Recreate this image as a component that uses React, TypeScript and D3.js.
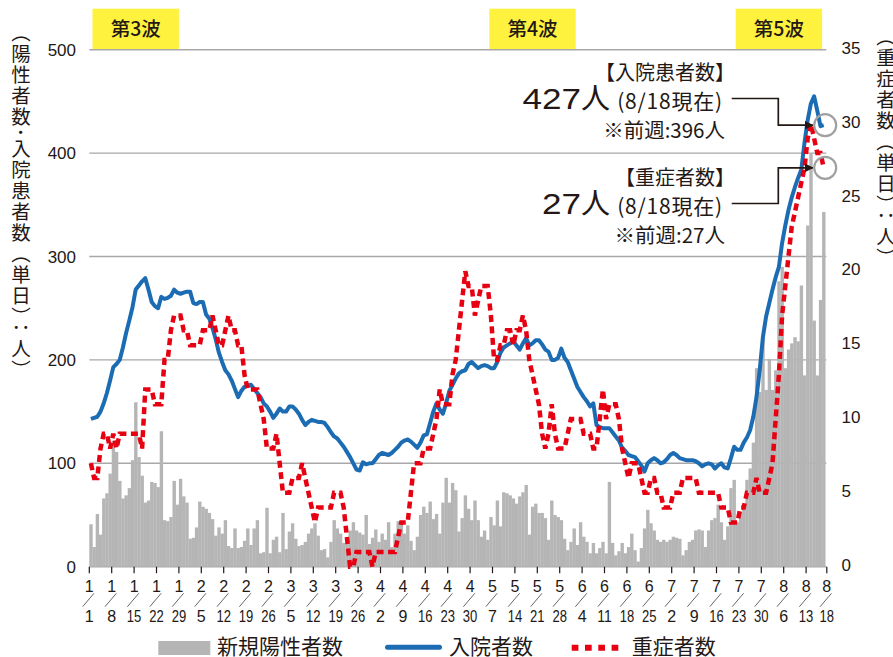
import { useEffect, useRef } from 'react'
import * as d3 from 'd3'

const WIDTH = 893
const HEIGHT = 657
const PLOT_LEFT = 89.3
const PLOT_RIGHT = 825.3
const PLOT_TOP = 49.7
const PLOT_BOTTOM = 566.7

const JP = '"Noto Sans CJK JP", "Noto Sans", sans-serif'
const NUM = '"Liberation Sans", Arial, sans-serif'
const INK = '#231815'
const BAR_COLOR = '#b5b5b5'
const BLUE = '#1c6cb4'
const RED = '#e60012'
const YELLOW = '#fff23f'

const START = new Date(2021, 0, 1)
const END = new Date(2021, 7, 18)

// 新規陽性者数 (1/1 - 8/18, daily)
const newCases = [
  41, 19, 51, 31, 66, 71, 90,
  122, 111, 83, 66, 69, 76, 103,
  159, 106, 88, 62, 64, 82, 81,
  77, 131, 45, 44, 48, 83, 60,
  85, 68, 62, 27, 28, 38, 63,
  58, 56, 52, 46, 30, 38, 32,
  45, 20, 18, 37, 18, 19, 25,
  37, 21, 37, 45, 13, 14, 57,
  13, 26, 29, 14, 52, 17, 34,
  42, 27, 20, 21, 24, 32, 37,
  42, 30, 16, 17, 9, 24, 45,
  37, 32, 23, 26, 35, 43, 35,
  33, 31, 50, 22, 28, 36, 24,
  32, 26, 43, 19, 32, 44, 42,
  32, 40, 25, 16, 29, 50, 58,
  52, 63, 46, 51, 32, 62, 86,
  62, 81, 74, 34, 47, 69, 56,
  45, 64, 45, 29, 35, 26, 48,
  40, 64, 39, 72, 71, 69, 66,
  61, 68, 72, 79, 31, 58, 61,
  52, 52, 47, 26, 64, 50, 48,
  45, 27, 16, 24, 37, 21, 43,
  29, 24, 13, 23, 13, 18, 24,
  13, 82, 23, 11, 15, 23, 13,
  19, 32, 16, 5, 18, 37, 55,
  42, 35, 26, 24, 26, 24, 26,
  29, 28, 27, 11, 16, 24, 26,
  35, 36, 35, 19, 35, 45, 47,
  60, 43, 26, 39, 76, 84, 43,
  53, 58, 84, 95, 120, 192, 169,
  221, 171, 201, 171, 190, 276, 290,
  192, 210, 216, 222, 218, 272, 185,
  330, 400, 238, 185, 258, 343,
]

// 入院者数
const hospitalized = [
  143, 144, 145, 150, 158, 168, 180,
  193, 196, 200, 212, 226, 238, 251,
  268, 272, 276, 279, 268, 256, 252,
  250, 261, 259, 260, 262, 268, 265,
  264, 265, 266, 266, 255, 254, 256,
  256, 244, 240, 231, 220, 207, 198,
  190, 186, 180, 172, 164, 170, 174,
  175, 176, 172, 168, 164, 158, 155,
  150, 144, 148, 153, 150, 150, 155,
  155, 152, 148, 142, 137, 140, 142,
  141, 140, 140, 139, 135, 130, 126,
  124, 120, 116, 111, 106, 100, 94,
  93, 101, 99, 100, 100, 104, 108,
  110, 109, 108, 110, 113, 116, 120,
  122, 123, 121, 118, 115, 120, 127,
  128, 139, 150, 158, 152, 148, 158,
  170, 176, 182, 187, 189, 190, 196,
  198, 195, 192, 194, 195, 194, 192,
  192, 198, 207, 212, 214, 216, 218,
  214, 210, 216, 221, 214, 216, 219,
  219, 215, 210, 208, 200, 200, 202,
  211, 202, 198, 190, 182, 174, 169,
  164, 160, 155, 158, 137, 135, 134,
  134, 134, 130, 126, 122, 115, 112,
  108, 107, 106, 102, 98, 92, 100,
  103, 105, 103, 100, 101, 104, 108,
  110, 108, 105, 104, 103, 103, 103,
  102, 100, 97, 99, 100, 99, 95,
  98, 100, 96, 95, 105, 116, 113,
  113, 120, 125, 132, 145, 164, 190,
  222, 242, 255, 268, 280, 290, 313,
  330, 345, 357, 367, 376, 384, 410,
  432, 448, 455, 441, 426, 427,
]

// 重症者数
const severe = [
  7, 6, 6, 8, 9, 9, 8,
  9, 8, 9, 9, 9, 9, 9,
  9, 9, 8, 12, 12, 12, 11,
  11, 11, 14, 14, 16, 17, 17,
  17, 16, 16, 15, 15, 15, 15,
  16, 16, 16, 17, 16, 15, 15,
  16, 17, 16, 16, 15, 15, 13,
  12, 12, 12, 12, 11, 10, 8,
  8, 8, 9, 7, 5, 5, 5,
  6, 6, 6, 7, 6, 5, 4,
  3, 4, 4, 4, 4, 4, 5,
  5, 5, 4, 2, 0, 0, 1,
  1, 1, 1, 1, 0, 1, 1,
  1, 1, 1, 1, 1, 2, 3,
  3, 3, 5, 7, 7, 7, 8,
  8, 8, 9, 10, 12, 11, 11,
  11, 13, 14, 16, 18, 20, 19,
  19, 17, 18, 19, 19, 19, 17,
  14, 14, 15, 15, 16, 16, 15,
  16, 16, 17, 16, 14, 13, 12,
  11, 9, 8, 9, 11, 9, 8,
  8, 8, 9, 10, 10, 10, 10,
  9, 9, 9, 8, 8, 10, 12,
  10, 11, 11, 11, 10, 8, 7,
  6, 7, 7, 7, 6, 5, 5,
  6, 6, 5, 5, 4, 4, 4,
  5, 5, 5, 6, 6, 6, 6,
  6, 5, 5, 5, 5, 5, 5,
  5, 4, 4, 4, 3, 3, 3,
  4, 4, 5, 5, 5, 6, 5,
  5, 5, 6, 7, 10, 13, 17,
  19, 21, 23, 24, 25, 26, 27,
  29, 30, 29, 28, 28, 27,
]

const leftTicks = [0, 100, 200, 300, 400, 500]
const rightTicks = [0, 5, 10, 15, 20, 25, 30, 35]

const waveLabels = ['第3波', '第4波', '第5波']
const waveFrom = ['1/2', '5/6', '7/22']
const waveTo = ['1/28', '6/1', '8/17']

const legendLabels = ['新規陽性者数', '入院者数', '重症者数']

function App() {
  const svgRef = useRef<SVGSVGElement>(null)

  useEffect(() => {
    if (!svgRef.current) return
    const svg = d3.select(svgRef.current)
    svg.selectAll('*').remove()

    const days = d3.timeDay.range(START, d3.timeDay.offset(END, 1))
    const fmt = d3.timeFormat('%-m/%-d')
    const idx = (s: string) => days.findIndex(d => fmt(d) === s)

    const x = d3.scaleBand<number>()
      .domain(d3.range(days.length))
      .range([PLOT_LEFT, PLOT_RIGHT])
      .padding(0)
    const bw = x.bandwidth()
    const cx = (i: number) => (x(i) as number) + bw / 2
    const yL = d3.scaleLinear().domain([0, 500]).range([PLOT_BOTTOM, PLOT_TOP])
    const yR = d3.scaleLinear().domain([0, 35]).range([PLOT_BOTTOM, PLOT_TOP])

    const defs = svg.append('defs')
    defs.append('marker')
      .attr('id', 'arrow')
      .attr('viewBox', '0 0 10 10')
      .attr('refX', 9)
      .attr('refY', 5)
      .attr('markerWidth', 9)
      .attr('markerHeight', 9)
      .attr('markerUnits', 'userSpaceOnUse')
      .attr('orient', 'auto')
      .append('path')
      .attr('d', 'M0,0 L10,5 L0,10 z')
      .attr('fill', INK)

    // wave boxes
    waveLabels.forEach((label, i) => {
      const x0 = x(idx(waveFrom[i])) as number
      const x1 = (x(idx(waveTo[i])) as number) + bw
      const g = svg.append('g')
      g.append('rect')
        .attr('x', x0)
        .attr('y', PLOT_TOP - 41)
        .attr('width', x1 - x0)
        .attr('height', 41)
        .attr('fill', YELLOW)
      g.append('text')
        .attr('x', (x0 + x1) / 2)
        .attr('y', PLOT_TOP - 20.5)
        .attr('dy', '0.35em')
        .attr('text-anchor', 'middle')
        .attr('font-family', JP)
        .attr('font-size', 19.5)
        .attr('font-weight', 500)
        .attr('fill', INK)
        .text(label)
    })

    // gridlines
    svg.append('g')
      .selectAll('line')
      .data(leftTicks)
      .enter()
      .append('line')
      .attr('x1', PLOT_LEFT)
      .attr('x2', PLOT_RIGHT + 1)
      .attr('y1', d => yL(d))
      .attr('y2', d => yL(d))
      .attr('stroke', '#a8a8a8')
      .attr('stroke-width', 1.4)

    // bars
    svg.append('g')
      .selectAll('rect')
      .data(newCases)
      .enter()
      .append('rect')
      .attr('x', (_, i) => x(i) as number)
      .attr('y', d => yL(d))
      .attr('width', bw + 0.2)
      .attr('height', d => PLOT_BOTTOM - yL(d))
      .attr('fill', BAR_COLOR)

    // hospitalized line
    const lineL = d3.line<number>().x((_, i) => cx(i)).y(d => yL(d))
    svg.append('path')
      .datum(hospitalized)
      .attr('d', lineL)
      .attr('fill', 'none')
      .attr('stroke', BLUE)
      .attr('stroke-width', 4)
      .attr('stroke-linejoin', 'round')

    // severe line
    const lineR = d3.line<number>().x((_, i) => cx(i)).y(d => yR(d))
    svg.append('path')
      .datum(severe)
      .attr('d', lineR)
      .attr('fill', 'none')
      .attr('stroke', RED)
      .attr('stroke-width', 4.5)
      .attr('stroke-dasharray', '7 4.5')

    // left axis labels
    svg.append('g')
      .selectAll('text')
      .data(leftTicks)
      .enter()
      .append('text')
      .attr('x', 76)
      .attr('y', d => yL(d))
      .attr('dy', '0.36em')
      .attr('text-anchor', 'end')
      .attr('font-family', NUM)
      .attr('font-size', 17)
      .attr('fill', INK)
      .text(d => d)

    // right axis labels
    svg.append('g')
      .selectAll('text')
      .data(rightTicks)
      .enter()
      .append('text')
      .attr('x', 841.5)
      .attr('y', d => yR(d) - 2)
      .attr('dy', '0.36em')
      .attr('font-family', NUM)
      .attr('font-size', 17)
      .attr('fill', INK)
      .text(d => d)

    // x axis ticks: every week + last day
    const tickIdx = d3.range(0, days.length, 7)
    const xTicks = tickIdx.map(i => ({ pos: x(i) as number, date: days[i] }))
    xTicks.push({ pos: PLOT_RIGHT + 1.5, date: days[days.length - 1] })
    const xg = svg.append('g')
    xTicks.forEach(t => {
      xg.append('line')
        .attr('x1', t.pos).attr('x2', t.pos)
        .attr('y1', PLOT_BOTTOM).attr('y2', PLOT_BOTTOM + 6.5)
        .attr('stroke', INK).attr('stroke-width', 1.2)
      xg.append('text')
        .attr('x', t.pos)
        .attr('y', 591.7)
        .attr('text-anchor', 'middle')
        .attr('font-family', NUM)
        .attr('font-size', 16)
        .attr('fill', INK)
        .text(t.date.getMonth() + 1)
      xg.append('line')
        .attr('x1', t.pos - 6.7).attr('y1', 606.7)
        .attr('x2', t.pos + 4.7).attr('y2', 593.3)
        .attr('stroke', '#555').attr('stroke-width', 0.9)
      const day = String(t.date.getDate())
      const dt = xg.append('text')
        .attr('x', t.pos)
        .attr('y', 621.7)
        .attr('text-anchor', 'middle')
        .attr('font-family', NUM)
        .attr('font-size', 16)
        .attr('fill', INK)
        .text(day)
      if (day.length > 1) {
        dt.attr('textLength', 14.5).attr('lengthAdjust', 'spacingAndGlyphs')
      }
    })

    // vertical axis titles
    svg.append('text')
      .attr('x', 21)
      .attr('y', 22.5)
      .style('writing-mode', 'vertical-rl')
      .attr('letter-spacing', 1.5)
      .attr('font-family', JP)
      .attr('font-size', 19.5)
      .attr('fill', INK)
      .text('（陽性者数･入院患者数（単日）：人）')
    svg.append('text')
      .attr('x', 886)
      .attr('y', 27)
      .style('writing-mode', 'vertical-rl')
      .attr('letter-spacing', 1.5)
      .attr('font-family', JP)
      .attr('font-size', 19.5)
      .attr('fill', INK)
      .text('（重症者数（単日）：人）')

    // annotations
    const last = days.length - 1
    const notes = [
      { title: '【入院患者数】', value: String(hospitalized[last]), prev: '※前週:396人', py: yL(hospitalized[last]), base: 108.5 },
      { title: '【重症者数】', value: String(severe[last]), prev: '※前週:27人', py: yR(severe[last]), base: 213.5 },
    ]
    notes.forEach(n => {
      const g = svg.append('g').attr('fill', INK)
      g.append('text')
        .attr('x', 735).attr('y', n.base - 29)
        .attr('text-anchor', 'end')
        .attr('font-family', JP).attr('font-size', 20)
        .text(n.title)
      g.append('text')
        .attr('x', 723).attr('y', n.base + 0.5)
        .attr('text-anchor', 'end')
        .attr('font-family', JP).attr('font-size', 21)
        .attr('letter-spacing', 0.8)
        .text('(8/18現在)')
      g.append('text')
        .attr('x', 610).attr('y', n.base)
        .attr('text-anchor', 'end')
        .attr('font-family', JP).attr('font-size', 29)
        .text('人')
      g.append('text')
        .attr('x', 581).attr('y', n.base)
        .attr('text-anchor', 'end')
        .attr('font-family', NUM).attr('font-size', 29)
        .attr('textLength', n.value.length * 19.5)
        .attr('lengthAdjust', 'spacingAndGlyphs')
        .text(n.value)
      g.append('text')
        .attr('x', 725).attr('y', n.base + 29)
        .attr('text-anchor', 'end')
        .attr('font-family', JP).attr('font-size', 20.5)
        .text(n.prev)

      const lineY = n.base - 10
      const endX = cx(last) - 11
      svg.append('path')
        .attr('d', `M731.7,${lineY} H778.3 V${n.py} H${endX}`)
        .attr('fill', 'none')
        .attr('stroke', INK)
        .attr('stroke-width', 1.7)
        .attr('marker-end', 'url(#arrow)')
      svg.append('circle')
        .attr('cx', cx(last) + 1.5)
        .attr('cy', n.py)
        .attr('r', 11)
        .attr('fill', 'none')
        .attr('stroke', '#a0a0a0')
        .attr('stroke-width', 2.2)
    })

    // legend
    const lg = svg.append('g')
    lg.append('rect')
      .attr('x', 158.3).attr('y', 641).attr('width', 52).attr('height', 14)
      .attr('fill', BAR_COLOR)
    lg.append('line')
      .attr('x1', 387.5).attr('x2', 439.5).attr('y1', 647.3).attr('y2', 647.3)
      .attr('stroke', BLUE).attr('stroke-width', 5).attr('stroke-linecap', 'round')
    lg.append('line')
      .attr('x1', 571.7).attr('x2', 618.5).attr('y1', 647.8).attr('y2', 647.8)
      .attr('stroke', RED).attr('stroke-width', 6).attr('stroke-dasharray', '6.7 6.6')
    const legendX = [217, 449, 631.7]
    legendLabels.forEach((l, i) => {
      lg.append('text')
        .attr('x', legendX[i]).attr('y', 654)
        .attr('font-family', JP).attr('font-size', 21)
        .attr('fill', INK)
        .text(l)
    })
  }, [])

  return (
    <svg
      ref={svgRef}
      width={WIDTH}
      height={HEIGHT}
      style={{ position: 'absolute', left: 0, top: 0, background: '#fff' }}
    />
  )
}

export default App
